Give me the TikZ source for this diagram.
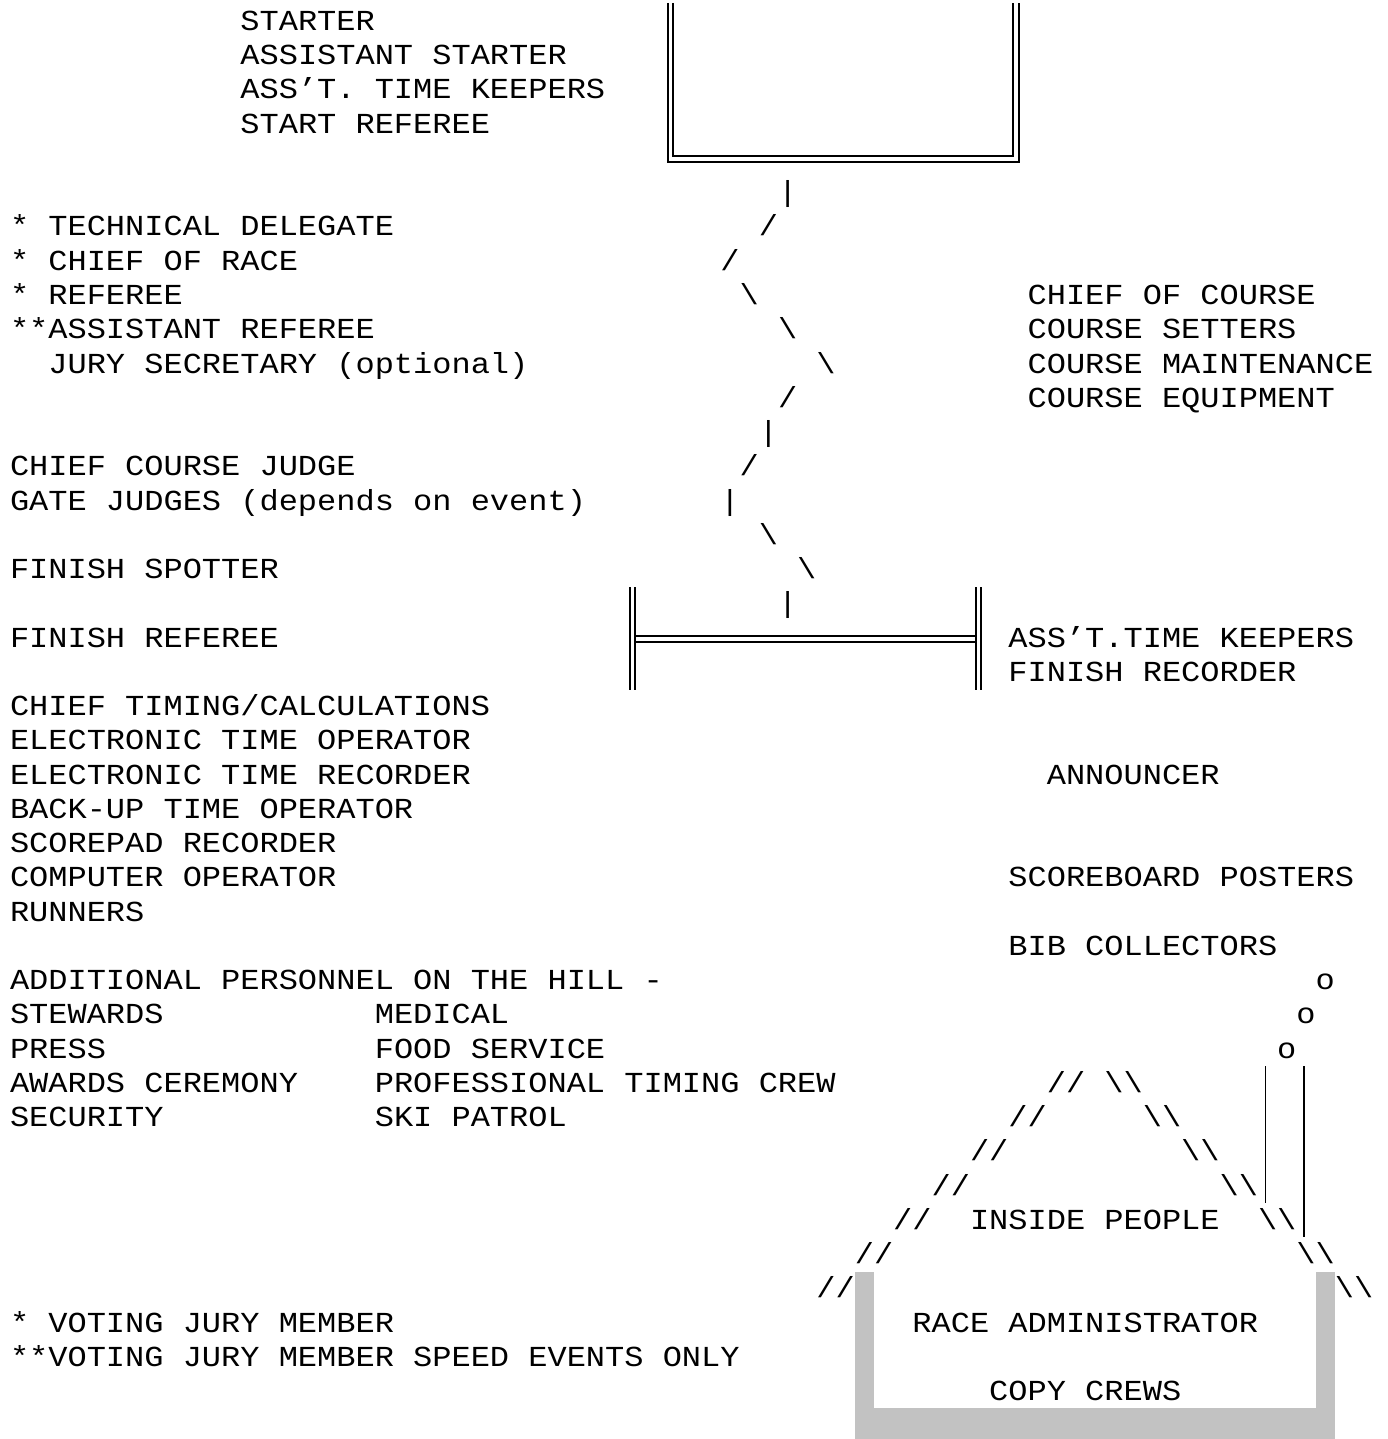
\documentclass[tikz,border=0pt]{standalone}
\usepackage{fontspec}
\setmonofont[FakeStretch=1.1034]{Liberation Mono}
\newcommand\bs{\textbackslash}
\newcommand\putline[4]{\node[txt] (#1) at ({10+19.2*#2},{30.5+34.25*#3}) {#4};}
\begin{document}
\begin{tikzpicture}[x=1pt,y=-1pt,
  txt/.style={anchor=base west,inner sep=0pt,outer sep=0pt,font=\ttfamily\fontsize{29}{34}\selectfont},
  dbl/.style={line width=2pt,black},
  shade/.style={fill=black!24,draw=none}]
\path[use as bounding box] (0,0) rectangle (1387,1439);
% start box
\draw[dbl] (667.7,3) -- (667.7,162.3) -- (1019,162.3) -- (1019,3);
\draw[dbl] (673.3,3) -- (673.3,155.7) -- (1013,155.7) -- (1013,3);
% finish box
\draw[dbl] (629.5,587) -- (629.5,690);
\draw[dbl] (634.5,587) -- (634.5,690);
\draw[dbl] (975.5,587) -- (975.5,690);
\draw[dbl] (980.5,587) -- (980.5,690);
\draw[dbl] (634.5,636) -- (975.5,636);
\draw[dbl] (634.5,641.5) -- (975.5,641.5);
% chimney
\draw[dbl,line width=1.8pt] (1265.5,1066) -- (1265.5,1203);
\draw[dbl,line width=1.8pt] (1304,1066) -- (1304,1237);
% house walls
\fill[shade] (854.8,1271.5) rectangle (874,1439);
\fill[shade] (1315.6,1271.5) rectangle (1334.8,1439);
\fill[shade] (854.8,1408.2) rectangle (1334.8,1439);
% start texts
\putline{s1}{12}{0}{STARTER}
\putline{s2}{12}{1}{ASSISTANT STARTER}
\putline{s3}{12}{2}{ASS’T. TIME KEEPERS}
\putline{s4}{12}{3}{START REFEREE}
% course line
\putline{c5}{40}{5}{|}
\putline{c6}{39}{6}{/}
\putline{c7}{37}{7}{/}
\putline{c8}{38}{8}{\bs}
\putline{c9}{40}{9}{\bs}
\putline{c10}{42}{10}{\bs}
\putline{c11}{40}{11}{/}
\putline{c12}{39}{12}{|}
\putline{c13}{38}{13}{/}
\putline{c14}{37}{14}{|}
\putline{c15}{39}{15}{\bs}
\putline{c16}{41}{16}{\bs}
\putline{c17}{40}{17}{|}
% jury
\putline{j1}{0}{6}{* TECHNICAL DELEGATE}
\putline{j2}{0}{7}{* CHIEF OF RACE}
\putline{j3}{0}{8}{* REFEREE}
\putline{j4}{0}{9}{**ASSISTANT REFEREE}
\putline{j5}{2}{10}{JURY SECRETARY (optional)}
% course crew
\putline{k1}{53}{8}{CHIEF OF COURSE}
\putline{k2}{53}{9}{COURSE SETTERS}
\putline{k3}{53}{10}{COURSE MAINTENANCE}
\putline{k4}{53}{11}{COURSE EQUIPMENT}
% judges
\putline{g1}{0}{13}{CHIEF COURSE JUDGE}
\putline{g2}{0}{14}{GATE JUDGES (depends on event)}
\putline{g3}{0}{16}{FINISH SPOTTER}
\putline{g4}{0}{18}{FINISH REFEREE}
% finish crew
\putline{f1}{52}{18}{ASS’T.TIME KEEPERS}
\putline{f2}{52}{19}{FINISH RECORDER}
% timing
\putline{t1}{0}{20}{CHIEF TIMING/CALCULATIONS}
\putline{t2}{0}{21}{ELECTRONIC TIME OPERATOR}
\putline{t3}{0}{22}{ELECTRONIC TIME RECORDER}
\putline{t4}{0}{23}{BACK-UP TIME OPERATOR}
\putline{t5}{0}{24}{SCOREPAD RECORDER}
\putline{t6}{0}{25}{COMPUTER OPERATOR}
\putline{t7}{0}{26}{RUNNERS}
\putline{a1}{54}{22}{ANNOUNCER}
\putline{a2}{52}{25}{SCOREBOARD POSTERS}
\putline{a3}{52}{27}{BIB COLLECTORS}
% additional
\putline{p0}{0}{28}{ADDITIONAL PERSONNEL ON THE HILL -}
\putline{p1}{0}{29}{STEWARDS}
\putline{p2}{19}{29}{MEDICAL}
\putline{p3}{0}{30}{PRESS}
\putline{p4}{19}{30}{FOOD SERVICE}
\putline{p5}{0}{31}{AWARDS CEREMONY}
\putline{p6}{19}{31}{PROFESSIONAL TIMING CREW}
\putline{p7}{0}{32}{SECURITY}
\putline{p8}{19}{32}{SKI PATROL}
% smoke
\putline{o1}{68}{28}{o}
\putline{o2}{67}{29}{o}
\putline{o3}{66}{30}{o}
% roof
\putline{l1}{54}{31}{//}
\putline{l2}{52}{32}{//}
\putline{l3}{50}{33}{//}
\putline{l4}{48}{34}{//}
\putline{l5}{46}{35}{//}
\putline{l6}{44}{36}{//}
\putline{l7}{42}{37}{//}
\putline{r1}{57}{31}{\bs\bs}
\putline{r2}{59}{32}{\bs\bs}
\putline{r3}{61}{33}{\bs\bs}
\putline{r4}{63}{34}{\bs\bs}
\putline{r5}{65}{35}{\bs\bs}
\putline{r6}{67}{36}{\bs\bs}
\putline{r7}{69}{37}{\bs\bs}
\putline{h1}{50}{35}{INSIDE PEOPLE}
\putline{h2}{47}{38}{RACE ADMINISTRATOR}
\putline{h3}{51}{40}{COPY CREWS}
% footnotes
\putline{n1}{0}{38}{* VOTING JURY MEMBER}
\putline{n2}{0}{39}{**VOTING JURY MEMBER SPEED EVENTS ONLY}
\end{tikzpicture}
\end{document}
